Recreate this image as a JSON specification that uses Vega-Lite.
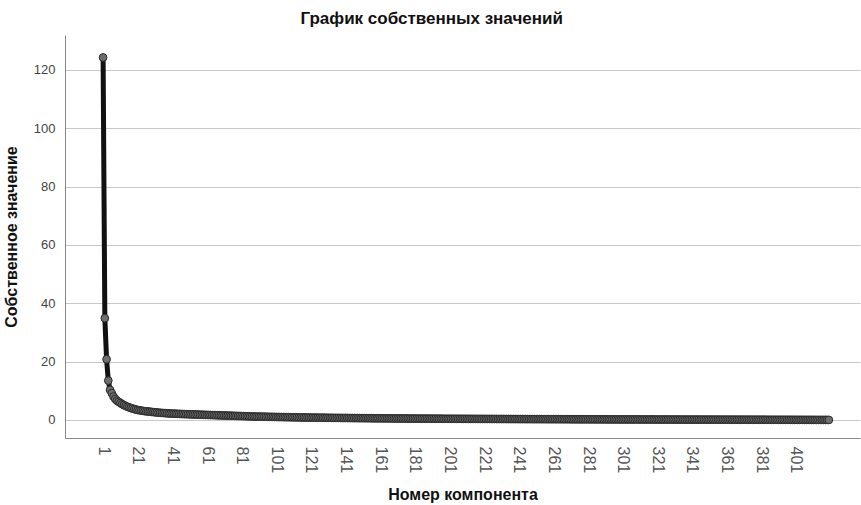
{
  "$schema": "https://vega.github.io/schema/vega-lite/v6.json",
  "autosize": "none",
  "width": 795,
  "height": 403,
  "padding": {"left": 65, "top": 35, "right": 1, "bottom": 67},
  "background": "white",
  "title": {"text": "График собственных значений", "anchor": "middle", "frame": "bounds", "font": "Liberation Sans", "fontSize": 17, "fontWeight": "bold", "color": "#111", "offset": 7},
  "config": {"view": {"stroke": null}},
  "data": {"values": [
{"c":1,"v":124.3},{"c":2,"v":34.9},{"c":3,"v":20.8},{"c":4,"v":13.5},{"c":5,"v":10.3},{"c":6,"v":9.2},{"c":7,"v":8.0},{"c":8,"v":7.2},{"c":9,"v":6.6},{"c":10,"v":6.2},
{"c":11,"v":5.8},{"c":12,"v":5.4},{"c":13,"v":5.1},{"c":14,"v":4.8},{"c":15,"v":4.5},{"c":16,"v":4.3},{"c":17,"v":4.1},{"c":18,"v":3.9},{"c":19,"v":3.7},{"c":20,"v":3.55},
{"c":21,"v":3.4},{"c":22,"v":3.3},{"c":23,"v":3.2},{"c":24,"v":3.1},{"c":25,"v":3.0},{"c":26,"v":2.95},{"c":27,"v":2.9},{"c":28,"v":2.82},{"c":29,"v":2.75},{"c":30,"v":2.68},
{"c":31,"v":2.62},{"c":32,"v":2.56},{"c":33,"v":2.5},{"c":34,"v":2.45},{"c":35,"v":2.4},{"c":36,"v":2.36},{"c":37,"v":2.32},{"c":38,"v":2.28},{"c":39,"v":2.24},{"c":40,"v":2.2},
{"c":41,"v":2.17},{"c":42,"v":2.14},{"c":43,"v":2.12},{"c":44,"v":2.09},{"c":45,"v":2.07},{"c":46,"v":2.04},{"c":47,"v":2.02},{"c":48,"v":1.99},{"c":49,"v":1.97},{"c":50,"v":1.95},
{"c":51,"v":1.92},{"c":52,"v":1.9},{"c":53,"v":1.88},{"c":54,"v":1.86},{"c":55,"v":1.84},{"c":56,"v":1.82},{"c":57,"v":1.8},{"c":58,"v":1.78},{"c":59,"v":1.76},{"c":60,"v":1.74},
{"c":61,"v":1.72},{"c":62,"v":1.7},{"c":63,"v":1.68},{"c":64,"v":1.66},{"c":65,"v":1.64},{"c":66,"v":1.62},{"c":67,"v":1.6},{"c":68,"v":1.58},{"c":69,"v":1.56},{"c":70,"v":1.54},
{"c":71,"v":1.52},{"c":72,"v":1.5},{"c":73,"v":1.48},{"c":74,"v":1.46},{"c":75,"v":1.44},{"c":76,"v":1.42},{"c":77,"v":1.4},{"c":78,"v":1.38},{"c":79,"v":1.36},{"c":80,"v":1.34},
{"c":81,"v":1.32},{"c":82,"v":1.3},{"c":83,"v":1.28},{"c":84,"v":1.26},{"c":85,"v":1.24},{"c":86,"v":1.22},{"c":87,"v":1.2},{"c":88,"v":1.18},{"c":89,"v":1.16},{"c":90,"v":1.15},
{"c":91,"v":1.14},{"c":92,"v":1.12},{"c":93,"v":1.11},{"c":94,"v":1.1},{"c":95,"v":1.09},{"c":96,"v":1.07},{"c":97,"v":1.06},{"c":98,"v":1.05},{"c":99,"v":1.04},{"c":100,"v":1.02},
{"c":101,"v":1.01},{"c":102,"v":1.0},{"c":103,"v":0.99},{"c":104,"v":0.98},{"c":105,"v":0.96},{"c":106,"v":0.95},{"c":107,"v":0.94},{"c":108,"v":0.93},{"c":109,"v":0.92},{"c":110,"v":0.91},
{"c":111,"v":0.9},{"c":112,"v":0.89},{"c":113,"v":0.88},{"c":114,"v":0.87},{"c":115,"v":0.86},{"c":116,"v":0.85},{"c":117,"v":0.84},{"c":118,"v":0.83},{"c":119,"v":0.82},{"c":120,"v":0.81},
{"c":121,"v":0.8},{"c":122,"v":0.79},{"c":123,"v":0.79},{"c":124,"v":0.78},{"c":125,"v":0.77},{"c":126,"v":0.77},{"c":127,"v":0.76},{"c":128,"v":0.75},{"c":129,"v":0.75},{"c":130,"v":0.74},
{"c":131,"v":0.73},{"c":132,"v":0.73},{"c":133,"v":0.72},{"c":134,"v":0.71},{"c":135,"v":0.71},{"c":136,"v":0.7},{"c":137,"v":0.69},{"c":138,"v":0.69},{"c":139,"v":0.68},{"c":140,"v":0.67},
{"c":141,"v":0.67},{"c":142,"v":0.66},{"c":143,"v":0.65},{"c":144,"v":0.65},{"c":145,"v":0.64},{"c":146,"v":0.63},{"c":147,"v":0.63},{"c":148,"v":0.62},{"c":149,"v":0.62},{"c":150,"v":0.61},
{"c":151,"v":0.6},{"c":152,"v":0.6},{"c":153,"v":0.59},{"c":154,"v":0.59},{"c":155,"v":0.58},{"c":156,"v":0.57},{"c":157,"v":0.57},{"c":158,"v":0.56},{"c":159,"v":0.56},{"c":160,"v":0.55},
{"c":161,"v":0.55},{"c":162,"v":0.54},{"c":163,"v":0.54},{"c":164,"v":0.53},{"c":165,"v":0.53},{"c":166,"v":0.53},{"c":167,"v":0.52},{"c":168,"v":0.52},{"c":169,"v":0.51},{"c":170,"v":0.51},
{"c":171,"v":0.51},{"c":172,"v":0.5},{"c":173,"v":0.5},{"c":174,"v":0.49},{"c":175,"v":0.49},{"c":176,"v":0.49},{"c":177,"v":0.48},{"c":178,"v":0.48},{"c":179,"v":0.47},{"c":180,"v":0.47},
{"c":181,"v":0.47},{"c":182,"v":0.46},{"c":183,"v":0.46},{"c":184,"v":0.45},{"c":185,"v":0.45},{"c":186,"v":0.45},{"c":187,"v":0.44},{"c":188,"v":0.44},{"c":189,"v":0.43},{"c":190,"v":0.43},
{"c":191,"v":0.43},{"c":192,"v":0.42},{"c":193,"v":0.42},{"c":194,"v":0.42},{"c":195,"v":0.41},{"c":196,"v":0.41},{"c":197,"v":0.41},{"c":198,"v":0.4},{"c":199,"v":0.4},{"c":200,"v":0.4},
{"c":201,"v":0.397},{"c":202,"v":0.394},{"c":203,"v":0.392},{"c":204,"v":0.389},{"c":205,"v":0.386},{"c":206,"v":0.384},{"c":207,"v":0.381},{"c":208,"v":0.379},{"c":209,"v":0.376},{"c":210,"v":0.373},
{"c":211,"v":0.371},{"c":212,"v":0.368},{"c":213,"v":0.366},{"c":214,"v":0.363},{"c":215,"v":0.36},{"c":216,"v":0.358},{"c":217,"v":0.355},{"c":218,"v":0.353},{"c":219,"v":0.35},{"c":220,"v":0.347},
{"c":221,"v":0.345},{"c":222,"v":0.342},{"c":223,"v":0.34},{"c":224,"v":0.337},{"c":225,"v":0.334},{"c":226,"v":0.332},{"c":227,"v":0.329},{"c":228,"v":0.327},{"c":229,"v":0.324},{"c":230,"v":0.321},
{"c":231,"v":0.319},{"c":232,"v":0.316},{"c":233,"v":0.314},{"c":234,"v":0.311},{"c":235,"v":0.308},{"c":236,"v":0.306},{"c":237,"v":0.303},{"c":238,"v":0.301},{"c":239,"v":0.298},{"c":240,"v":0.295},
{"c":241,"v":0.293},{"c":242,"v":0.29},{"c":243,"v":0.288},{"c":244,"v":0.285},{"c":245,"v":0.282},{"c":246,"v":0.28},{"c":247,"v":0.277},{"c":248,"v":0.275},{"c":249,"v":0.272},{"c":250,"v":0.27},
{"c":251,"v":0.268},{"c":252,"v":0.266},{"c":253,"v":0.264},{"c":254,"v":0.262},{"c":255,"v":0.26},{"c":256,"v":0.258},{"c":257,"v":0.256},{"c":258,"v":0.254},{"c":259,"v":0.252},{"c":260,"v":0.25},
{"c":261,"v":0.248},{"c":262,"v":0.246},{"c":263,"v":0.244},{"c":264,"v":0.242},{"c":265,"v":0.24},{"c":266,"v":0.238},{"c":267,"v":0.236},{"c":268,"v":0.234},{"c":269,"v":0.232},{"c":270,"v":0.23},
{"c":271,"v":0.228},{"c":272,"v":0.226},{"c":273,"v":0.224},{"c":274,"v":0.222},{"c":275,"v":0.22},{"c":276,"v":0.218},{"c":277,"v":0.216},{"c":278,"v":0.214},{"c":279,"v":0.212},{"c":280,"v":0.21},
{"c":281,"v":0.208},{"c":282,"v":0.206},{"c":283,"v":0.204},{"c":284,"v":0.202},{"c":285,"v":0.2},{"c":286,"v":0.198},{"c":287,"v":0.196},{"c":288,"v":0.194},{"c":289,"v":0.192},{"c":290,"v":0.19},
{"c":291,"v":0.188},{"c":292,"v":0.186},{"c":293,"v":0.184},{"c":294,"v":0.182},{"c":295,"v":0.18},{"c":296,"v":0.178},{"c":297,"v":0.176},{"c":298,"v":0.174},{"c":299,"v":0.172},{"c":300,"v":0.17},
{"c":301,"v":0.169},{"c":302,"v":0.167},{"c":303,"v":0.166},{"c":304,"v":0.164},{"c":305,"v":0.163},{"c":306,"v":0.162},{"c":307,"v":0.16},{"c":308,"v":0.159},{"c":309,"v":0.157},{"c":310,"v":0.156},
{"c":311,"v":0.155},{"c":312,"v":0.153},{"c":313,"v":0.152},{"c":314,"v":0.15},{"c":315,"v":0.149},{"c":316,"v":0.148},{"c":317,"v":0.146},{"c":318,"v":0.145},{"c":319,"v":0.143},{"c":320,"v":0.142},
{"c":321,"v":0.141},{"c":322,"v":0.139},{"c":323,"v":0.138},{"c":324,"v":0.136},{"c":325,"v":0.135},{"c":326,"v":0.134},{"c":327,"v":0.132},{"c":328,"v":0.131},{"c":329,"v":0.129},{"c":330,"v":0.128},
{"c":331,"v":0.127},{"c":332,"v":0.125},{"c":333,"v":0.124},{"c":334,"v":0.122},{"c":335,"v":0.121},{"c":336,"v":0.12},{"c":337,"v":0.118},{"c":338,"v":0.117},{"c":339,"v":0.115},{"c":340,"v":0.114},
{"c":341,"v":0.113},{"c":342,"v":0.111},{"c":343,"v":0.11},{"c":344,"v":0.108},{"c":345,"v":0.107},{"c":346,"v":0.106},{"c":347,"v":0.104},{"c":348,"v":0.103},{"c":349,"v":0.101},{"c":350,"v":0.1},
{"c":351,"v":0.099},{"c":352,"v":0.098},{"c":353,"v":0.096},{"c":354,"v":0.095},{"c":355,"v":0.094},{"c":356,"v":0.093},{"c":357,"v":0.092},{"c":358,"v":0.09},{"c":359,"v":0.089},{"c":360,"v":0.088},
{"c":361,"v":0.087},{"c":362,"v":0.086},{"c":363,"v":0.084},{"c":364,"v":0.083},{"c":365,"v":0.082},{"c":366,"v":0.081},{"c":367,"v":0.08},{"c":368,"v":0.078},{"c":369,"v":0.077},{"c":370,"v":0.076},
{"c":371,"v":0.075},{"c":372,"v":0.074},{"c":373,"v":0.072},{"c":374,"v":0.071},{"c":375,"v":0.07},{"c":376,"v":0.069},{"c":377,"v":0.068},{"c":378,"v":0.066},{"c":379,"v":0.065},{"c":380,"v":0.064},
{"c":381,"v":0.063},{"c":382,"v":0.062},{"c":383,"v":0.06},{"c":384,"v":0.059},{"c":385,"v":0.058},{"c":386,"v":0.057},{"c":387,"v":0.056},{"c":388,"v":0.054},{"c":389,"v":0.053},{"c":390,"v":0.052},
{"c":391,"v":0.051},{"c":392,"v":0.05},{"c":393,"v":0.048},{"c":394,"v":0.047},{"c":395,"v":0.046},{"c":396,"v":0.045},{"c":397,"v":0.044},{"c":398,"v":0.042},{"c":399,"v":0.041},{"c":400,"v":0.04},
{"c":401,"v":0.038},{"c":402,"v":0.036},{"c":403,"v":0.035},{"c":404,"v":0.033},{"c":405,"v":0.031},{"c":406,"v":0.029},{"c":407,"v":0.028},{"c":408,"v":0.026},{"c":409,"v":0.024},{"c":410,"v":0.022},
{"c":411,"v":0.021},{"c":412,"v":0.019},{"c":413,"v":0.017},{"c":414,"v":0.015},{"c":415,"v":0.014},{"c":416,"v":0.012},{"c":417,"v":0.01},{"c":418,"v":0.008},{"c":419,"v":0.007},{"c":420,"v":0.005}
  ]},
  "encoding": {
    "x": {"field": "c", "type": "quantitative",
      "scale": {"domain": [-21, 438], "nice": false, "zero": false},
      "axis": {"title": "Номер компонента", "values": [1,21,41,61,81,101,121,141,161,181,201,221,241,261,281,301,321,341,361,381,401],
        "labelAngle": 90, "labelAlign": "left", "labelBaseline": "middle", "labelPadding": 8, "ticks": false, "grid": false,
        "domainColor": "#888", "labelFont": "Liberation Sans", "labelFontSize": 16, "labelColor": "#555",
        "titleFont": "Liberation Sans", "titleFontSize": 16, "titleFontWeight": "bold", "titleColor": "#111", "titlePadding": 14}},
    "y": {"field": "v", "type": "quantitative",
      "scale": {"domain": [-6.2, 132], "nice": false, "zero": false},
      "axis": {"title": "Собственное значение", "values": [0,20,40,60,80,100,120], "ticks": false, "grid": true, "gridColor": "#c8c8c8", "gridWidth": 1,
        "domainColor": "#888", "labelFont": "Liberation Sans", "labelFontSize": 13, "labelColor": "#444", "labelPadding": 10,
        "titleFont": "Liberation Sans", "titleFontSize": 16, "titleFontWeight": "bold", "titleColor": "#111", "titlePadding": 14}}
  },
  "layer": [
    {"mark": {"type": "line", "color": "#111", "strokeWidth": 5}},
    {"mark": {"type": "point", "filled": true, "fill": "#6e6e6e", "stroke": "#2a2a2a", "strokeWidth": 1, "size": 60, "opacity": 1}}
  ]
}
